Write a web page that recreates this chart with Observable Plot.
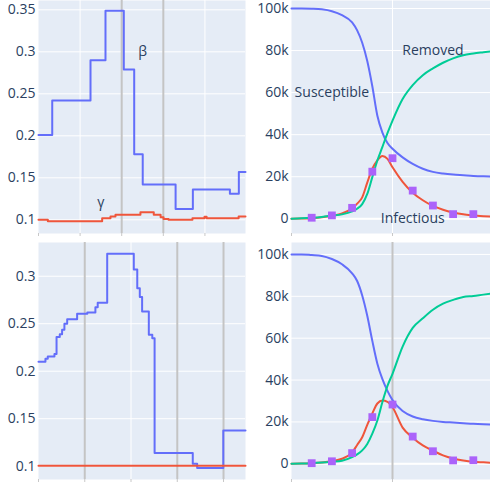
<!DOCTYPE html>
<html><head><meta charset="utf-8">
<script src="https://cdn.jsdelivr.net/npm/d3@7"></script>
<script src="https://cdn.jsdelivr.net/npm/@observablehq/plot@0.6"></script>
<style>
body{margin:0;background:#fff;}
#wrap{position:relative;width:490px;height:482px;overflow:hidden;font-family:"Open Sans",sans-serif;}
.panel{position:absolute;}
</style></head><body><div id="wrap"></div>
<script>
// ---- top-left: time-varying rates (days) ----
const betaDays1 = [0, 6.6, 25, 32.2, 41, 46, 50.1, 65.9, 74.2, 92, 96.3, 99.5];
const betaVals1 = [0.201, 0.242, 0.290, 0.349, 0.279, 0.178, 0.142, 0.113, 0.136, 0.131, 0.157, 0.157];
const gammaDays1 = [0, 4.5, 30.6, 34.6, 37, 49, 55.4, 58.7, 60.1, 62.5, 74, 79.8, 80.8, 96.2, 99.5];
const gammaVals1 = [0.100, 0.0983, 0.102, 0.104, 0.106, 0.109, 0.106, 0.103, 0.101, 0.100, 0.102, 0.1035, 0.102, 0.104, 0.104];
const rateLabels1 = ["β", "γ"];
const rateLabelX1 = [50, 30];
const rateLabelY1 = [0.3, 0.12];

// ---- bottom-left ----
const betaDays2 = [0, 3.0, 4.0, 6.9, 7.8, 9.2, 10.2, 11.2, 12.4, 16.7, 21.1, 24.6, 25.6, 29.7, 41.2, 42.7, 43.8, 44.8, 47.7, 49.2, 50.2, 66.7, 68.6, 79.9, 89.5];
const betaVals2 = [0.210, 0.213, 0.2155, 0.218, 0.236, 0.239, 0.2436, 0.250, 0.2547, 0.2604, 0.2618, 0.2674, 0.272, 0.3236, 0.307, 0.2874, 0.278, 0.2628, 0.2383, 0.2347, 0.1140, 0.1025, 0.098, 0.1376, 0.1376];
const gammaDays2 = [0, 89.5];
const gammaVals2 = [0.1005, 0.1005];

// ---- SIR panels (values in thousands) ----
const sirDays = [0,10,20,30,40,50,60,65,70,75,80,85,90,95,100,110,120,130,140,150,160,170,180,190,197];
const S1 = [100,100,99.9,99.6,98.7,96.8,93.4,89.6,83.7,75,63,49,41,36,33.3,29.2,26.1,23.8,22.3,21.5,21,20.7,20.4,20.2,20.1];
const I1 = [0,0.1,0.3,0.7,1.4,2.5,5,7.2,10.2,17.2,23.8,27.8,29.9,28.5,24.5,17.6,12.4,8.8,6.1,4.3,3,2.1,1.6,1.2,1.1];
const R1 = [0,0.2,0.5,0.9,1.5,2.1,3.5,4.8,7,11.8,19.8,27.7,34.2,40.7,46.7,57,63.6,68.3,71.5,74.2,76.3,77.8,78.6,79.2,79.6];
const S2 = [100,100,99.7,99.3,97.8,95.3,91,87.3,80.4,70.7,58.7,47.8,40.4,34.8,30.4,25.2,22.6,21.3,20.5,20,19.7,19.4,19.1,18.9,18.8];
const I2 = [0,0.1,0.3,0.6,1.2,2.4,5.4,9,12.7,18.6,24,28.8,30.2,29.6,27,17.3,12.5,8.8,6.3,4,2.5,1.6,1,0.7,0.5];
const R2 = [0,0.1,0.3,0.6,1.0,1.5,3.2,4.5,6.4,9.5,14.4,20.7,29.5,37.2,43,56,64.9,69.5,73.6,76.5,78.3,79.7,80.2,80.8,81.2];
const obsDays = [20,40,60,80,100,120,140,160,180];
const obs1 = [0.5,1.6,5.2,22.4,28.8,13.4,6.3,2.2,2.2];
const obs2 = [0.3,1.2,5.1,22.3,28.3,13.0,6.0,1.6,1.7];
const sirLabels = ["Susceptible", "Removed", "Infectious"];
const sirLabelX = [40, 140, 120];
const sirLabelY = [60, 80, 0];

const rateTicks1 = [0.1, 0.15, 0.2, 0.25, 0.3, 0.35];
const rateTicks2 = [0.1, 0.15, 0.2, 0.25, 0.3];
const sirTicks = [0, 20, 40, 60, 80, 100];
const leftXTicks = [0, 20, 40, 60, 80];
const rightXTicks = [0, 100];

const C = {blue:"#636efa", red:"#EF553B", green:"#00cc96", purple:"#ab63fa", bg:"#e5ecf6", text:"#2a3f5f", vline:"#c4c4c4"};
const wrap = document.getElementById("wrap");

function panel(o) {
  const p = Plot.plot({
    width: o.width, height: o.height,
    marginLeft: o.mL, marginRight: 0, marginTop: 0, marginBottom: o.mB,
    x: {domain: o.xDomain}, y: {domain: o.yDomain},
    style: {fontFamily: "'Open Sans', sans-serif", fontSize: "14px", color: C.text, background: "transparent", overflow: "visible"},
    marks: [
      Plot.frame({fill: C.bg, stroke: "none"}),
      Plot.ruleY(o.yTicks, {stroke: "#fff", strokeWidth: 1}),
      o.zero ? Plot.ruleY([0], {stroke: "#fff", strokeWidth: 2}) : null,
      Plot.ruleX(o.whiteX, {stroke: "#fff", strokeWidth: 1}),
      Plot.ruleX(o.grayX, {stroke: C.vline, strokeWidth: 2}),
      Plot.axisY({ticks: o.yTicks, tickSize: 0, tickPadding: 3, tickFormat: o.yFormat, label: null, fontSize: 14, fill: C.text}),
      Plot.axisX({ticks: o.xTicks, tickSize: 3, tickFormat: () => "", label: null, stroke: "#c8c8c8"}),
      ...o.marks
    ]
  });
  const d = document.createElement("div");
  d.className = "panel";
  d.style.left = o.left + "px"; d.style.top = o.top + "px";
  d.appendChild(p);
  wrap.appendChild(d);
}

const rateFmt = d => String(+d.toFixed(2));
const kFmt = d => d === 0 ? "0" : d + "k";

function rateMarks(bd, bv, gd, gv, labels) {
  const m = [
    Plot.line(bv, {x: bd, y: bv, curve: "step-after", stroke: C.blue, strokeWidth: 2}),
    Plot.line(gv, {x: gd, y: gv, curve: "step-after", stroke: C.red, strokeWidth: 2})
  ];
  if (labels) m.push(Plot.text(rateLabels1, {x: rateLabelX1, y: rateLabelY1, text: d => d, fontSize: 14, fill: C.text}));
  return m;
}
function sirMarks(S, I, R, obs, labels) {
  const m = [
    Plot.line(S, {x: sirDays, y: S, curve: "monotone-x", stroke: C.blue, strokeWidth: 2}),
    Plot.line(I, {x: sirDays, y: I, curve: "monotone-x", stroke: C.red, strokeWidth: 2}),
    Plot.line(R, {x: sirDays, y: R, curve: "monotone-x", stroke: C.green, strokeWidth: 2}),
    Plot.dot(obs, {x: obsDays, y: obs, symbol: "square", r: 4.4, fill: C.purple})
  ];
  if (labels) m.push(Plot.text(sirLabels, {x: sirLabelX, y: sirLabelY, text: d => d, fontSize: 14, fill: C.text}));
  return m;
}

panel({left: 0, top: 0, width: 245, height: 240, mL: 38, mB: 7,
  xDomain: [0, 99.5], yDomain: [0.0837, 0.3611], yTicks: rateTicks1, yFormat: rateFmt,
  xTicks: leftXTicks, whiteX: [20, 80], grayX: [40, 60],
  marks: rateMarks(betaDays1, betaVals1, gammaDays1, gammaVals1, true)});

panel({left: 245, top: 0, width: 245, height: 240, mL: 46, mB: 7, zero: true,
  xDomain: [0, 197], yDomain: [-7.0, 103.8], yTicks: sirTicks, yFormat: kFmt,
  xTicks: rightXTicks, whiteX: [100], grayX: [],
  marks: sirMarks(S1, I1, R1, obs1, true)});

panel({left: 0, top: 242, width: 245, height: 240, mL: 38, mB: 3,
  xDomain: [0, 89.5], yDomain: [0.086, 0.3355], yTicks: rateTicks2, yFormat: rateFmt,
  xTicks: leftXTicks, whiteX: [40], grayX: [20, 60, 80],
  marks: rateMarks(betaDays2, betaVals2, gammaDays2, gammaVals2, false)});

panel({left: 245, top: 242, width: 245, height: 240, mL: 46, mB: 3, zero: true,
  xDomain: [0, 197], yDomain: [-7.5, 105.7], yTicks: sirTicks, yFormat: kFmt,
  xTicks: rightXTicks, whiteX: [], grayX: [100],
  marks: sirMarks(S2, I2, R2, obs2, false)});
</script>
</body></html>
